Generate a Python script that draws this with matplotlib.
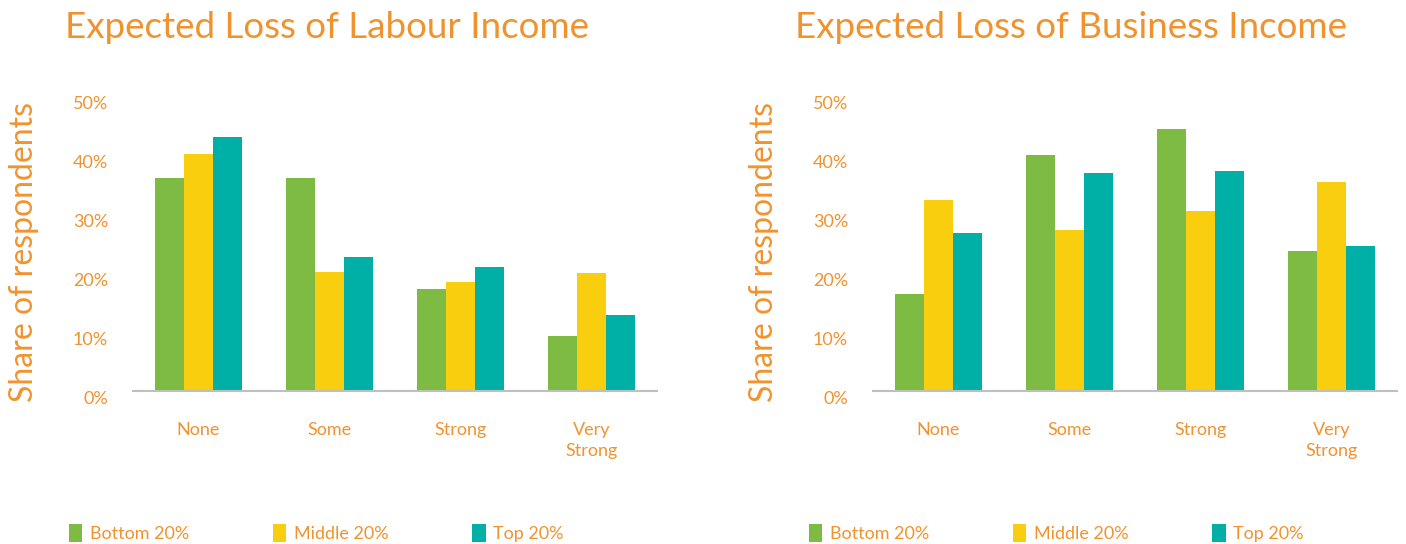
import numpy as np
import matplotlib.pyplot as plt
import matplotlib.transforms as mtransforms

categories = ["None", "Some", "Strong", "Very\nStrong"]
series = ["Bottom 20%", "Middle 20%", "Top 20%"]

labour_bottom = [36.1, 36.1, 17.2, 9.4]
labour_middle = [40.2, 20.2, 18.4, 20.0]
labour_top = [43.1, 22.7, 21.0, 12.8]

business_bottom = [16.4, 40.0, 44.4, 23.7]
business_middle = [32.4, 27.2, 30.5, 35.4]
business_top = [26.7, 36.9, 37.2, 24.5]

titles = ["Expected Loss of Labour Income", "Expected Loss of Business Income"]
colors = ["#7DBB42", "#F9CE0E", "#00AFA5"]
orange = "#F0932F"

plt.rcParams["font.family"] = ["Lato", "DejaVu Sans"]

fig = plt.figure(figsize=(14.06, 5.44), dpi=100)

panels = [
    (0.0946, 0.0462, [labour_bottom, labour_middle, labour_top]),
    (0.6209, 0.5654, [business_bottom, business_middle, business_top]),
]

x = np.arange(len(categories))
width = 0.22

for i, (left, title_x, data) in enumerate(panels):
    ax = fig.add_axes([left, 0.2813, 0.3727, 0.5423])
    for j, vals in enumerate(data):
        ax.bar(x + (j - 1) * width, np.array(vals) / 100, width,
               color=colors[j], label=series[j])
    ax.set_xlim(-0.5, 3.5)
    ax.set_ylim(0, 0.5)
    ax.set_yticks(np.arange(0, 0.51, 0.1))
    ax.set_yticklabels([f"{int(round(v * 100))}%" for v in np.arange(0, 0.51, 0.1)])
    ax.set_xticks(x)
    ax.set_xticklabels(categories, linespacing=1.45)
    ax.tick_params(axis="both", length=0, labelsize=13, labelcolor=orange)
    ax.tick_params(axis="y", pad=18)
    ax.tick_params(axis="x", pad=22)
    # the y labels sit a bit below their gridline in the original
    offset = mtransforms.ScaledTranslation(0, -7 / 100, fig.dpi_scale_trans)
    for lbl in ax.get_yticklabels():
        lbl.set_transform(lbl.get_transform() + offset)
    for side in ["top", "right", "left"]:
        ax.spines[side].set_visible(False)
    ax.spines["bottom"].set_color("#BFBFBF")
    ax.spines["bottom"].set_linewidth(1.5)
    ax.set_ylabel("Share of respondents", fontsize=23, color=orange)
    ax.yaxis.set_label_coords(-0.18, 0.47)

    fig.text(title_x, 0.949, titles[i], fontsize=26.5, color=orange,
             ha="left", va="center")

    leg = fig.legend(*ax.get_legend_handles_labels(), loc="center left",
                     bbox_to_anchor=(left - 0.052, 0.02), ncol=3, frameon=False,
                     handlelength=0.75, handleheight=1.1, handletextpad=0.4,
                     columnspacing=4.65, fontsize=13, borderpad=0)
    for t in leg.get_texts():
        t.set_color(orange)

plt.savefig("out.png", dpi=100)
